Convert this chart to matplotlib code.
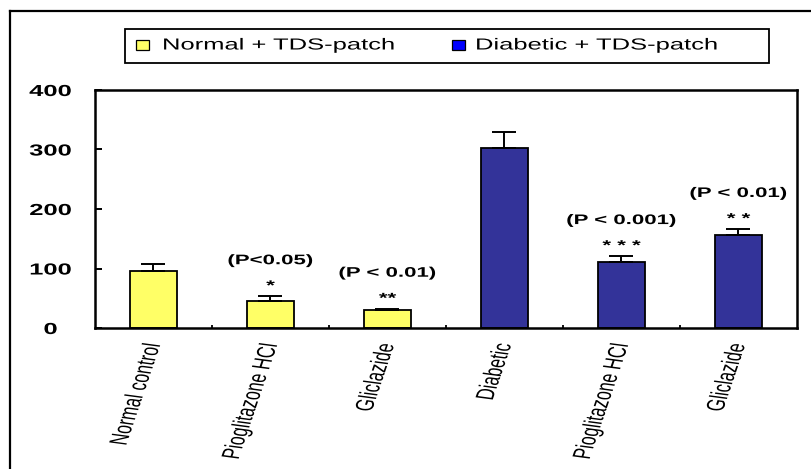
import matplotlib
matplotlib.use("Agg")
import matplotlib.pyplot as plt
from matplotlib.patches import Rectangle
from matplotlib.lines import Line2D
from matplotlib.patheffects import AbstractPathEffect
from matplotlib.transforms import Affine2D

# ---- data -------------------------------------------------------------
categories = ["Normal control", "Pioglitazone HCl", "Gliclazide",
              "Diabetic", "Pioglitazone HCl", "Gliclazide"]
groups = ["Normal + TDS-patch", "Diabetic + TDS-patch"]
group_of_bar = [0, 0, 0, 1, 1, 1]
means = [95, 45, 30, 302, 111, 156]
errors = [13, 8.5, 2.5, 27, 10, 10.5]
stars = ["", "*", "**", "", "* * *", "* *"]
p_labels = ["", "(P<0.05)", "(P < 0.01)", "", "(P < 0.001)", "(P < 0.01)"]
yticks = [0, 100, 200, 300, 400]

# ---- style ------------------------------------------------------------
bar_colors = ["#ffff66", "#333399"]
key_colors = ["#ffff66", "#0000ff"]
WIDE = 1.6          # horizontal widening applied to all lettering
W, H = 812, 469

plt.rcParams["font.family"] = ["Liberation Sans", "DejaVu Sans"]


class WideText(AbstractPathEffect):
    """Draw a text's glyphs widened horizontally about its anchor point."""

    def __init__(self, text, sx):
        super().__init__()
        self.text = text
        self.sx = sx

    def draw_path(self, renderer, gc, tpath, affine, rgbFace=None):
        px = self.text._get_xy_display()[0]
        widen = Affine2D().translate(-px, 0).scale(self.sx, 1).translate(px, 0)
        renderer.draw_path(gc, tpath, affine + widen, rgbFace)


def widen(text, sx=WIDE):
    text.set_path_effects([WideText(text, sx)])
    return text


def fx(px):
    return px / W


def fy(py):
    return 1 - py / H


fig = plt.figure(figsize=(W / 100, H / 100), dpi=100)
fig.patch.set_facecolor("white")
ax = fig.add_axes([fx(95), fy(328), (797 - 95) / W, (328 - 90) / H])

x = list(range(len(categories)))
colors = [bar_colors[g] for g in group_of_bar]
ax.bar(x, means, width=0.4, color=colors, edgecolor="black",
       linewidth=1.3, zorder=2)
ax.errorbar(x, means, yerr=[[0] * len(errors), errors], fmt="none",
            ecolor="black", elinewidth=1.4, capsize=8.3, capthick=1.4,
            zorder=3)

# significance marks above the error bars
for xi, m, e, st, pl in zip(x, means, errors, stars, p_labels):
    if st:
        widen(ax.annotate(st, (xi, m + e), xytext=(0, 4.5),
                          textcoords="offset points", ha="center",
                          va="baseline", fontsize=10, fontweight="bold"))
    if pl:
        widen(ax.annotate(pl, (xi, m + e), xytext=(0, 23),
                          textcoords="offset points", ha="center",
                          va="baseline", fontsize=10, fontweight="bold"))

ax.set_xlim(-0.5, len(categories) - 0.5)
ax.set_ylim(yticks[0], yticks[-1])

for s in ax.spines.values():
    s.set_linewidth(1.8)
    s.set_color("black")

# y axis
ax.set_yticks(yticks)
ylabels = ax.set_yticklabels([str(v) for v in yticks])
ax.tick_params(axis="y", direction="in", length=5, width=1.4, pad=32,
               labelsize=11.5)
for t in ylabels:
    t.set_fontweight("bold")
    t.set_horizontalalignment("center")
    widen(t)

# x axis: labels under bars, ticks between categories
ax.set_xticks(x)
xlabels = ax.set_xticklabels(categories)
ax.tick_params(axis="x", which="major", length=0, pad=11, labelsize=11.5)
for t in xlabels:
    t.set_rotation(78)
    t.set_rotation_mode("anchor")
    t.set_horizontalalignment("right")
    t.set_verticalalignment("center")
    widen(t)
ax.set_xticks([i + 0.5 for i in x[:-1]], minor=True)
ax.tick_params(axis="x", which="minor", direction="in", length=2.5, width=1.3)

# key box above the plot
fig.add_artist(Rectangle((fx(125), fy(63)), (769 - 125) / W, (63 - 29) / H,
                         transform=fig.transFigure, fill=False,
                         edgecolor="black", linewidth=1.3))
key_pos = [(136, 162), (452, 475)]
for (sq_x, tx_x), label, kc in zip(key_pos, groups, key_colors):
    fig.add_artist(Rectangle((fx(sq_x), fy(50)), 13 / W, 10 / H,
                             transform=fig.transFigure, facecolor=kc,
                             edgecolor="black", linewidth=0.9))
    widen(fig.text(fx(tx_x), fy(49.5), label, fontsize=11.5,
                   ha="left", va="baseline"))

# outer frame lines
fig.add_artist(Line2D([fx(10), fx(10)], [0, fy(11)], transform=fig.transFigure,
                      color="black", linewidth=1.6))
fig.add_artist(Line2D([fx(10), 1], [fy(11), fy(11)], transform=fig.transFigure,
                      color="black", linewidth=1.6))

fig.savefig("out.png", dpi=100, facecolor="white")
